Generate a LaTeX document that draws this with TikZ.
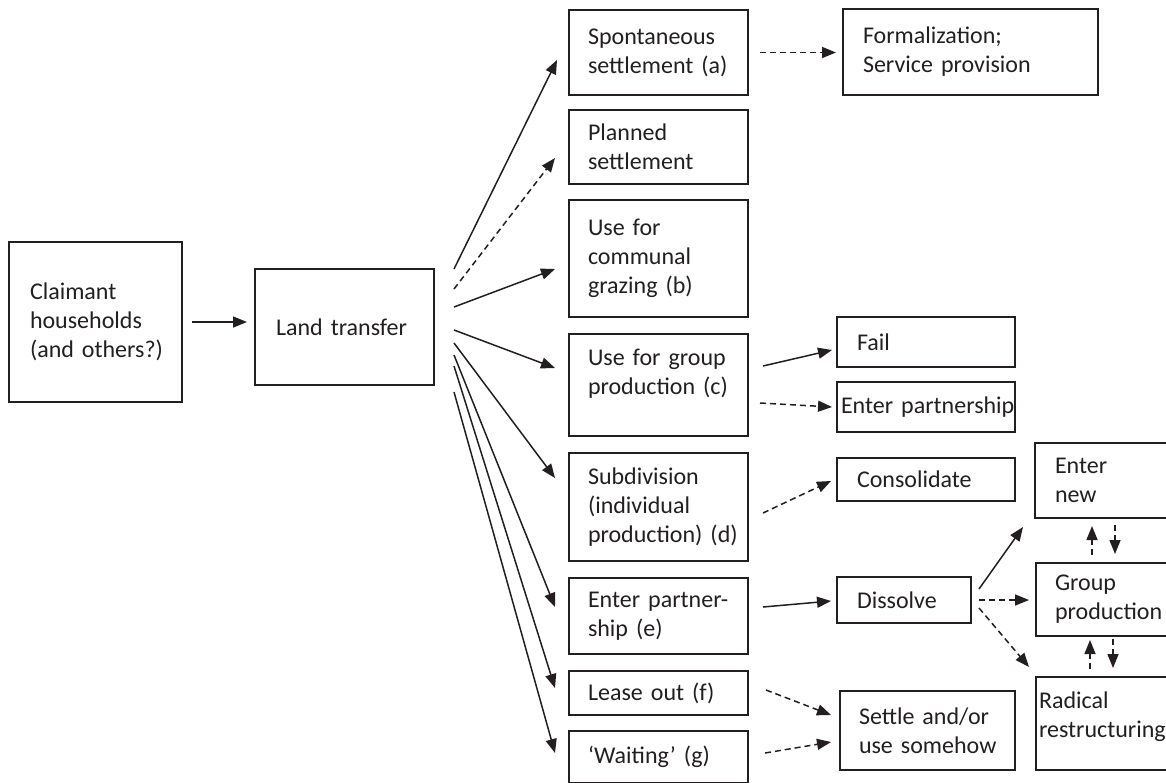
\documentclass[tikz,border=0pt]{standalone}
\usepackage{fontspec}
\setmainfont{Carlito}
\usetikzlibrary{arrows.meta,calc}
\definecolor{ink}{HTML}{231F20}
\begin{document}
\begin{tikzpicture}[x=1pt,y=-1pt,
  box/.style={draw=ink, line width=1.8pt, inner ysep=0pt, outer sep=0pt,
    align=left, anchor=north west, text=ink, font=\fontsize{24}{29}\selectfont},
  arr/.style={draw=ink, line width=1.5pt, -{Triangle[length=14pt,width=11pt]}},
  dsh/.style={arr, dash pattern=on 6pt off 4pt}]
\useasboundingbox (0,0) rectangle (1166,782);
\clip (0,0) rectangle (1166,782);

% left boxes
\node[box, minimum width=173pt, minimum height=160pt, inner xsep=21pt, text width=131pt] (claim) at (9,242)
  {Claimant\\households\\\mbox{(and others?)}};
\node[box, minimum width=179pt, minimum height=116pt, inner xsep=21pt, text width=137pt] (lt) at (255,269)
  {\mbox{Land transfer}};

% middle column
\node[box, minimum width=179pt, minimum height=85pt, inner xsep=19pt, text width=141pt] (sp) at (569,10)
  {Spontaneous\\\mbox{settlement (a)}};
\node[box, minimum width=179pt, minimum height=74pt, inner xsep=19pt, text width=141pt] (pl) at (569,110)
  {Planned\\settlement};
\node[box, minimum width=179pt, minimum height=117pt, inner xsep=19pt, text width=141pt] (cg) at (569,200)
  {\mbox{Use for}\\communal\\\mbox{grazing (b)}};
\node[box, minimum width=179pt, minimum height=102pt, inner xsep=19pt, text width=141pt] (gp) at (569,334)
  {\mbox{Use for group}\\\mbox{production (c)}\\[-3pt]\mbox{}};
\node[box, minimum width=179pt, minimum height=108pt, inner xsep=19pt, text width=141pt] (sd) at (569,453)
  {Subdivision\\(individual\\\mbox{production) (d)}};
\node[box, minimum width=179pt, minimum height=76pt, inner xsep=19pt, text width=141pt] (ep) at (569,578)
  {\mbox{Enter partner-}\\\mbox{ship (e)}};
\node[box, minimum width=179pt, minimum height=44pt, inner xsep=19pt, text width=141pt] (lo) at (569,671)
  {\mbox{Lease out (f)}};
\node[box, minimum width=179pt, minimum height=52pt, inner xsep=19pt, text width=141pt] (wt) at (569,731)
  {\mbox{`Waiting' (g)}};

% right part
\node[box, minimum width=255pt, minimum height=86pt, inner xsep=20pt, text width=215pt] (fm) at (843,9)
  {Formalization;\\\mbox{Service provision}};
\node[box, minimum width=178pt, minimum height=50pt, inner xsep=20pt, text width=138pt] (fl) at (837,317)
  {Fail};
\node[box, minimum width=178pt, minimum height=50pt, inner xsep=4pt, text width=170pt] (ep2) at (837,382)
  {\mbox{Enter partnership}};
\node[box, minimum width=178pt, minimum height=43pt, inner xsep=20pt, text width=138pt] (cs) at (837,458)
  {Consolidate};
\node[box, minimum width=134pt, minimum height=46pt, inner xsep=20pt, text width=94pt] (ds) at (837,577)
  {Dissolve};
\node[box, minimum width=175pt, minimum height=79pt, inner xsep=19pt, text width=137pt] (st) at (840,691)
  {\mbox{Settle and/or}\\\mbox{use somehow}};
\node[box, minimum width=140pt, minimum height=75pt, inner xsep=20pt, text width=100pt] (en) at (1035,443)
  {Enter\\new};
\node[box, minimum width=140pt, minimum height=73pt, inner xsep=19pt, text width=102pt] (gr) at (1036,563)
  {Group\\production};
\node[box, minimum width=140pt, minimum height=93pt, inner xsep=3pt, text width=134pt] (rr) at (1036,677)
  {Radical\\restructuring\\[-12pt]\mbox{}};

% connectors
\draw[arr, shorten <=10pt, shorten >=8pt] (claim.east) -- (claim.east -| lt.west);

\draw[arr] ($(lt.north east)+(20,0)$)   -- ($(sp.west)+(-12,7.5)$);
\draw[dsh] ($(lt.north east)+(20,20)$)  -- ($(pl.west)+(-14,11)$);
\draw[arr] ($(lt.north east)+(20,38)$)  -- ($(cg.west)+(-14,10.5)$);
\draw[arr] ($(lt.north east)+(20,61)$)  -- ($(gp.west)+(-14,-17)$);
\draw[arr] ($(lt.north east)+(20,74)$)  -- ($(sd.west)+(-14,-29)$);
\draw[arr] ($(lt.north east)+(20,86)$)  -- ($(ep.west)+(-14,-9)$);
\draw[arr] ($(lt.north east)+(20,97)$)  -- ($(lo.west)+(-14,-5)$);
\draw[arr] ($(lt.north east)+(20,123)$) -- ($(wt.west)+(-14,-4)$);

\draw[dsh, shorten <=12pt, shorten >=7pt] (sp.east) -- (sp.east -| fm.west);
\draw[arr] ($(gp.east)+(15,-19)$) -- ($(fl.west)+(-5,8)$);
\draw[dsh] ($(gp.east)+(12,18)$) -- ($(ep2.west)+(-5,0)$);
\draw[dsh] ($(sd.east)+(15,6)$) -- ($(cs.west)+(-6,1.5)$);
\draw[arr] ($(ep.east)+(15,-9)$) -- ($(ds.west)+(-6,1)$);
\draw[arr] ($(ds.east)+(8,-11)$) -- ($(en.south west)+(-12,9)$);
\draw[dsh] ($(ds.east)+(8,0)$) -- ($(gr.west)+(-7,0.5)$);
\draw[dsh] ($(ds.east)+(8,8)$) -- ($(rr.north west)+(-7,-10)$);
\draw[dsh] ($(gr.north west)+(56,-8)$) -- ($(en.south west)+(57,8)$);
\draw[dsh] ($(en.south west)+(80,7)$) -- ($(gr.north west)+(79,-9)$);
\draw[dsh] ($(rr.north west)+(54,-8)$) -- ($(gr.south west)+(54,4)$);
\draw[dsh] ($(gr.south west)+(77,3)$) -- ($(rr.north west)+(77,-9)$);
\draw[dsh] ($(lo.east)+(18,-3)$) -- ($(st.west)+(-9,-15.5)$);
\draw[dsh] ($(wt.east)+(17,-4)$) -- ($(st.west)+(-9,11.5)$);
\end{tikzpicture}
\end{document}
